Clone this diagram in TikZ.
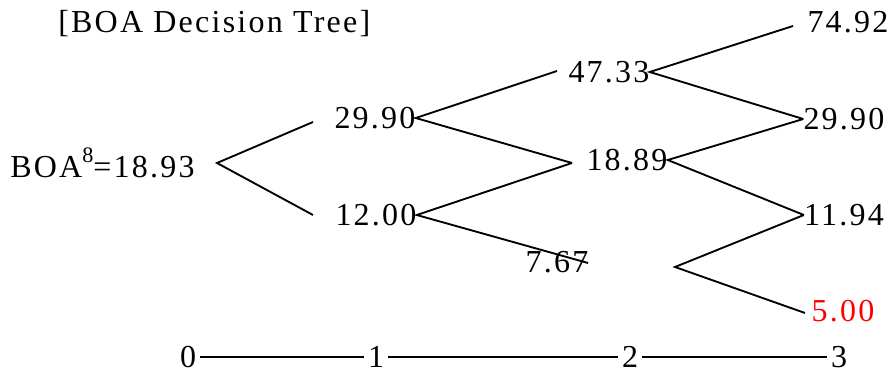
\documentclass[tikz,border=0pt]{standalone}
\usepackage{fontspec}
\setmainfont{Liberation Serif}[LetterSpace=7]
\usepackage{tikz}
\usetikzlibrary{positioning}

\begin{document}
\begin{tikzpicture}[
  x=0.75pt, y=-0.75pt,
  val/.style={inner sep=0pt, font=\fontsize{24}{28}\selectfont},
  period/.style={val, inner sep=3pt},
  branch/.style={draw=black, line width=1.4pt},
  timeline/.style={draw=black, line width=1.4pt}
]
  \useasboundingbox (0,0) rectangle (892,374);

  % Title and root value
  \node[val, anchor=base west] (title) at (58,33) {[BOA Decision Tree]};
  \node[val, anchor=base west] (root) at (10,177)
    {BOA\raisebox{10.5pt}{\fontsize{16.6}{16}\selectfont 8}=18.93};

  % Prices at each step
  \node[val] (u1) at (375,118) {29.90};
  \node[val] (d1) at (376,215) {12.00};
  \node[val] (uu) at (609,72) {47.33};
  \node[val] (ud) at (627,160) {18.89};
  \node[val] (dd) at (557,262) {7.67};
  \node[val] (uuu) at (848,22) {74.92};
  \node[val] (uud) at (844,119) {29.90};
  \node[val] (udd) at (844,215) {11.94};
  \node[val, red] (ddd) at (843,311) {5.00};

  % Branch points
  \coordinate (r) at (217,163);
  \coordinate (r1) at (313,122);
  \coordinate (r2) at (313,215);
  \coordinate (e1) at (557,71);
  \coordinate (e2) at (572,163);
  \coordinate (e3) at (588,263);
  \coordinate (h) at (675,267);
  \coordinate (k1) at (793,26);
  \coordinate (k4) at (805,313);

  % Draw branches
  \draw[branch] (r1) -- (r) -- (r2);
  \draw[branch] (e1) -- (u1.east) -- (e2);
  \draw[branch] (e2) -- (d1.east) -- (e3);
  \draw[branch] (k1) -- (uu.east) -- (uud.west);
  \draw[branch] (uud.west) -- (ud.east) -- (udd.west);
  \draw[branch] (udd.west) -- (h) -- (k4);

  % Time axis
  \node[period] (t0) at (188,357) {0};
  \node[period] (t1) at (376,357) {1};
  \node[period] (t2) at (630,357) {2};
  \node[period] (t3) at (839,357) {3};
  \draw[timeline] (t0) -- (t1);
  \draw[timeline] (t1) -- (t2);
  \draw[timeline] (t2) -- (t3);
\end{tikzpicture}
\end{document}
